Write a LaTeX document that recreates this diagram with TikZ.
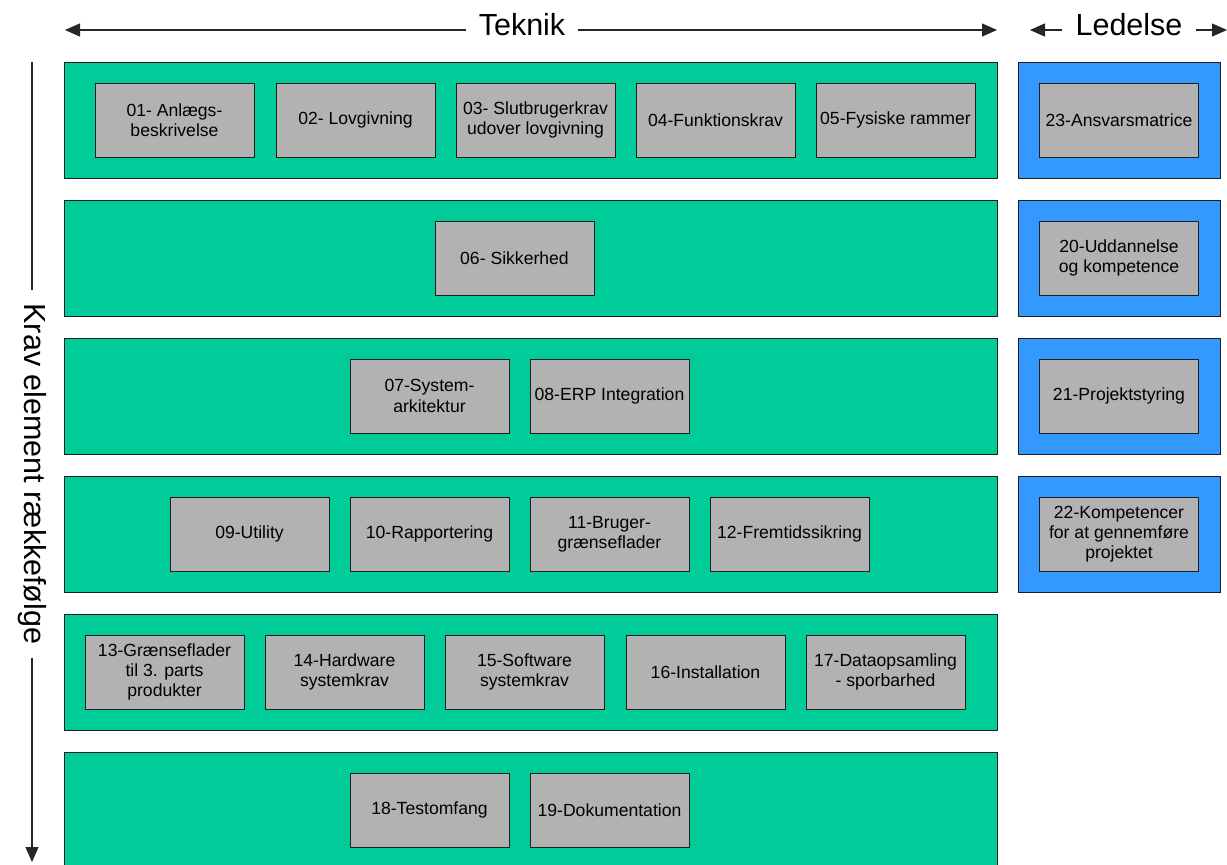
\documentclass[tikz,border=0pt]{standalone}
\usepackage{fontspec}
\setmainfont{Liberation Sans}
\usetikzlibrary{arrows.meta}
\definecolor{rowgreen}{RGB}{0,204,153}
\definecolor{rowblue}{RGB}{51,153,255}
\definecolor{itemgray}{RGB}{178,178,178}
\definecolor{edge}{RGB}{30,30,30}
\tikzset{
  rowbox/.style={draw=edge, line width=1pt, fill=rowgreen, anchor=north west, minimum width=933pt, minimum height=116pt, inner sep=0pt},
  mgmtbox/.style={draw=edge, line width=1pt, fill=rowblue, anchor=north west, minimum width=202pt, minimum height=116pt, inner sep=0pt},
  item/.style={draw=edge, line width=1pt, fill=itemgray, minimum width=159pt, minimum height=74pt, inner sep=2pt, align=center, font=\fontsize{17.6}{20.2}\selectfont},
  hdr/.style={inner xsep=13pt, inner ysep=0pt, font=\fontsize{30.5}{34}\selectfont},
  axisline/.style={draw=black!85, line width=1.1pt},
  axis/.style={axisline, -{Triangle[length=15pt,width=13pt]}}
}
\begin{document}
\begin{tikzpicture}[x=1pt,y=-1pt]
\clip (0,0) rectangle (1227,865);
\useasboundingbox (0,0) rectangle (1227,865);

% header arrows
\node[hdr] (teknik) at (522,25) {Teknik};
\coordinate (tL) at (65,30);
\coordinate (tR) at (997,30);
\draw[axis] (teknik.west |- tL) -- (tL);
\draw[axis] (teknik.east |- tR) -- (tR);

\node[hdr] (ledelse) at (1129,25) {Ledelse};
\coordinate (lL) at (1030,30);
\coordinate (lR) at (1227,30);
\draw[axis] (ledelse.west |- lL) -- (lL);
\draw[axis] (ledelse.east |- lR) -- (lR);

% vertical axis
\node[hdr, rotate=-90] (krav) at (32,474) {Krav element rækkefølge};
\coordinate (vT) at (32,62);
\coordinate (vB) at (32,862);
\draw[axisline] (krav.west -| vT) -- (vT);
\draw[axis] (krav.east -| vB) -- (vB);

% rows
\node[rowbox] (r1) at (64,62) {};
\node[rowbox] (r2) at (64,200) {};
\node[rowbox] (r3) at (64,338) {};
\node[rowbox] (r4) at (64,476) {};
\node[rowbox] (r5) at (64,614) {};
\node[rowbox, minimum height=140pt] (r6) at (64,752) {};

\node[mgmtbox] (m1) at (1018,62) {};
\node[mgmtbox] (m2) at (1018,200) {};
\node[mgmtbox] (m3) at (1018,338) {};
\node[mgmtbox] (m4) at (1018,476) {};

% row 1
\node[item] (n01) at (174.5,120) {01- Anlægs-\\beskrivelse};
\node[item] (n02) at (355.5,120) {02- Lovgivning};
\node[item] (n03) at (535.5,120) {03- Slutbrugerkrav\\udover lovgivning};
\node[item] (n04) at (715.5,120) {04-Funktionskrav};
\node[item] (n05) at (895.5,120) {05-Fysiske rammer};
\node[item] (n23) at (1119,120) {23-Ansvarsmatrice};
% row 2
\node[item] (n06) at (514.5,258) {06- Sikkerhed};
\node[item] (n20) at (1119,258) {20-Uddannelse\\og kompetence};
% row 3
\node[item] (n07) at (429.5,396) {07-System-\\arkitektur};
\node[item] (n08) at (609.5,396) {08-ERP Integration};
\node[item] (n21) at (1119,396) {21-Projektstyring};
% row 4
\node[item] (n09) at (249.5,534) {09-Utility};
\node[item] (n10) at (429.5,534) {10-Rapportering};
\node[item] (n11) at (609.5,534) {11-Bruger-\\grænseflader};
\node[item] (n12) at (789.5,534) {12-Fremtidssikring};
\node[item] (n22) at (1119,534) {22-Kompetencer\\for at gennemføre\\projektet};
% row 5
\node[item] (n13) at (164.5,672) {13-Grænseflader\\til 3. parts\\produkter};
\node[item] (n14) at (344.5,672) {14-Hardware\\systemkrav};
\node[item] (n15) at (524.5,672) {15-Software\\systemkrav};
\node[item] (n16) at (705.5,672) {16-Installation};
\node[item] (n17) at (885.5,672) {17-Dataopsamling\\- sporbarhed};
% row 6
\node[item] (n18) at (429.5,810) {18-Testomfang};
\node[item] (n19) at (609.5,810) {19-Dokumentation};
\end{tikzpicture}
\end{document}
